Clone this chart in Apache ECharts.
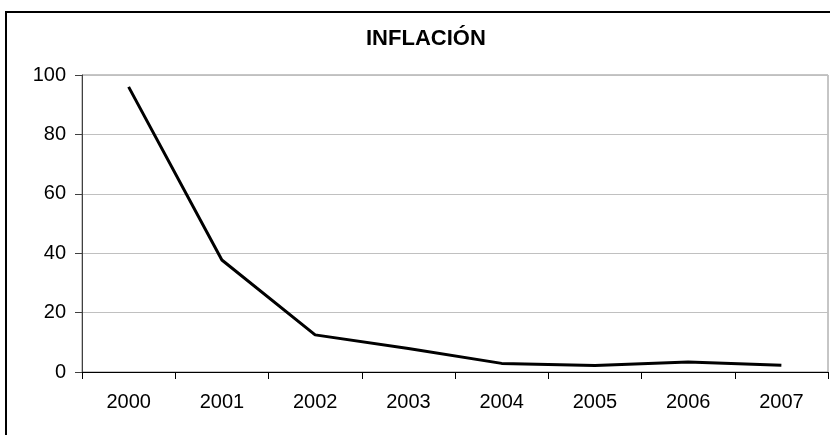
<!DOCTYPE html>
<html>
<head>
<meta charset="utf-8">
<script src="https://cdn.jsdelivr.net/npm/echarts@6/dist/echarts.min.js"></script>
<style>
  html, body { margin: 0; padding: 0; background: #fff; }
  #chart { width: 830px; height: 435px; }
</style>
</head>
<body>
<div id="chart"></div>
<script>
// Annual inflation (%)
const years = ['2000', '2001', '2002', '2003', '2004', '2005', '2006', '2007'];
const inflation = [96.0, 37.7, 12.5, 7.9, 2.9, 2.2, 3.4, 2.3];
const yTicks = { min: 0, max: 100, interval: 20 };
const chartTitle = 'INFLACIÓN';

const chart = echarts.init(document.getElementById('chart'), null, { renderer: 'canvas' });
const FONT = '"Liberation Sans", Arial, sans-serif';

chart.setOption({
  animation: false,
  backgroundColor: '#ffffff',
  title: {
    text: chartTitle,
    left: 366,
    top: 28,
    padding: 0,
    textStyle: { fontFamily: FONT, fontSize: 22, fontWeight: 'bold', color: '#000' }
  },
  graphic: [{
    type: 'rect',
    shape: { x: 6, y: 12, width: 840, height: 440 },
    style: { fill: 'none', stroke: '#000', lineWidth: 2 },
    silent: true
  }],
  grid: {
    left: 82, top: 75, right: 2, bottom: 63,
    show: true, borderColor: '#8c8c8c', borderWidth: 1, backgroundColor: 'transparent'
  },
  xAxis: {
    type: 'category',
    data: years,
    boundaryGap: true,
    axisLine: { show: true, lineStyle: { color: '#000', width: 1 } },
    axisTick: { show: true, alignWithLabel: false, length: 7, inside: false, lineStyle: { color: '#000' } },
    axisLabel: { fontFamily: FONT, fontSize: 20, color: '#000', margin: 20 },
    splitLine: { show: false }
  },
  yAxis: {
    type: 'value',
    min: yTicks.min, max: yTicks.max, interval: yTicks.interval,
    axisLine: { show: true, lineStyle: { color: '#404040', width: 1 } },
    axisTick: { show: true, length: 7, lineStyle: { color: '#404040' } },
    axisLabel: { fontFamily: FONT, fontSize: 20, color: '#000', margin: 16 },
    splitLine: { show: true, lineStyle: { color: '#c0c0c0', width: 1 } }
  },
  series: [{
    type: 'line',
    data: inflation,
    symbol: 'none',
    lineStyle: { color: '#000', width: 3 },
    z: 5
  }]
});
</script>
</body>
</html>
